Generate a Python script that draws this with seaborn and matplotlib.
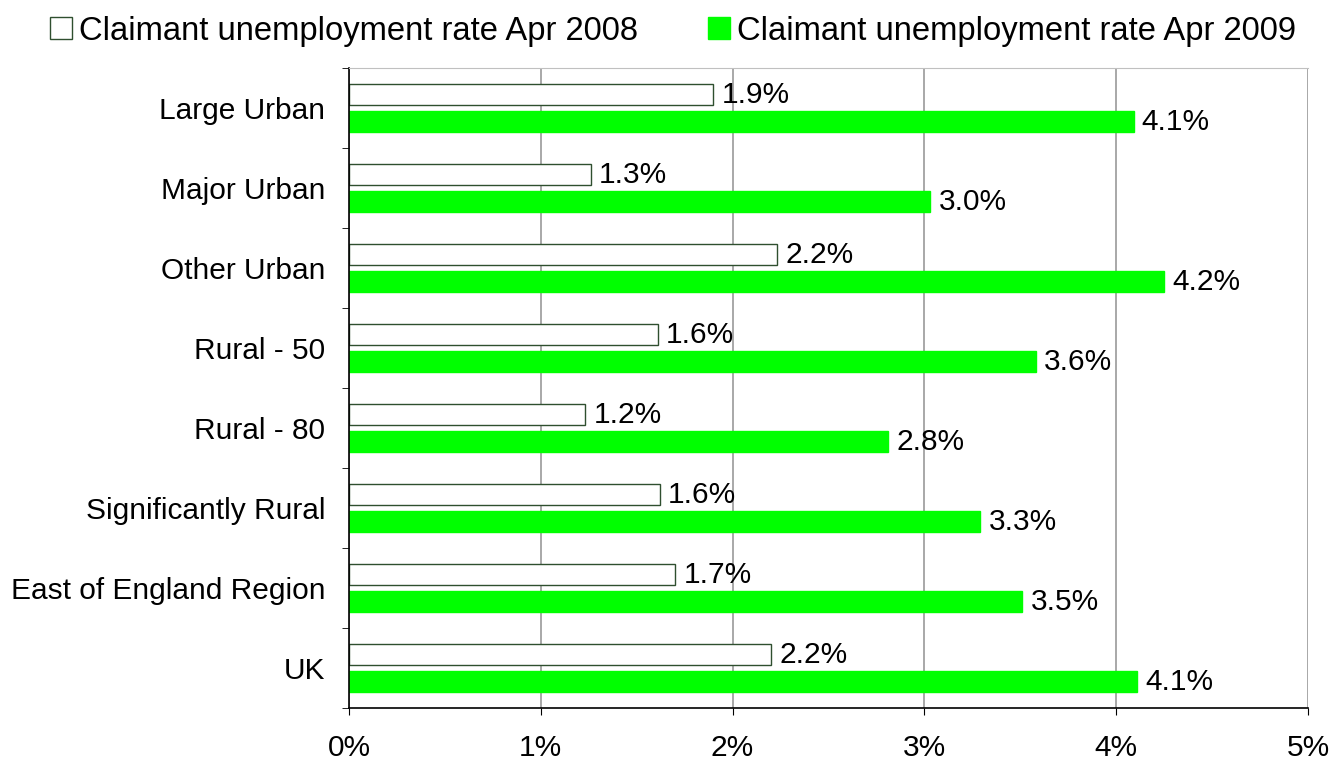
import pandas as pd
import numpy as np
import matplotlib
matplotlib.use("Agg")
import matplotlib.pyplot as plt
import seaborn as sns
from matplotlib.patches import Patch
from matplotlib.ticker import FuncFormatter

# Data
areas = ['Large Urban', 'Major Urban', 'Other Urban', 'Rural - 50', 'Rural - 80',
         'Significantly Rural', 'East of England Region', 'UK']
rate_2008 = [1.90, 1.26, 2.23, 1.61, 1.23, 1.62, 1.70, 2.20]
rate_2009 = [4.09, 3.03, 4.25, 3.58, 2.81, 3.29, 3.51, 4.11]
series_names = ['Claimant unemployment rate Apr 2008', 'Claimant unemployment rate Apr 2009']

df = pd.DataFrame({'Area': areas * 2,
                   'Rate': rate_2008 + rate_2009,
                   'Series': [series_names[0]] * len(areas) + [series_names[1]] * len(areas)})

sns.set_style("white")
plt.rcParams['font.family'] = ['Liberation Sans', 'DejaVu Sans']
plt.rcParams['text.color'] = 'black'
plt.rcParams['xtick.color'] = 'black'
plt.rcParams['ytick.color'] = 'black'

fig, ax = plt.subplots(figsize=(13.3, 7.61), dpi=100)
fig.subplots_adjust(left=0.2624, right=0.9835, top=0.9106, bottom=0.0696)

sns.barplot(data=df, y='Area', x='Rate', hue='Series', orient='h', saturation=1,
            palette=['white', '#00ff00'], width=0.675, gap=0.22, ax=ax, legend=False)

edge = '#2f4f2f'
for bar_container, ec in zip(ax.containers, [edge, '#00ff00']):
    for p in bar_container:
        p.set_edgecolor(ec)
        p.set_linewidth(1.0)
    ax.bar_label(bar_container, fmt='%.1f%%', padding=6, fontsize=21.5, color='black')

ax.set_xlim(0, 5)
ax.set_ylim(len(areas) - 0.5, -0.5)
ax.set_xticks(range(6))
ax.xaxis.set_major_formatter(FuncFormatter(lambda v, _: f'{v:.0f}%'))
ax.set_xlabel('')
ax.set_ylabel('')

ax.grid(axis='x', color='#999999', linewidth=1.2)
ax.set_axisbelow(True)

ax.set_yticks(np.arange(len(areas)))
ax.set_yticks(np.arange(len(areas) + 1) - 0.5, minor=True)
ax.tick_params(axis='y', which='major', length=0, pad=17, labelsize=21.5)
ax.tick_params(axis='y', which='minor', length=5, direction='out', color='black', left=True)
ax.tick_params(axis='x', length=5, direction='out', color='black', bottom=True, pad=14, labelsize=21.5)

for s in ['left', 'bottom']:
    ax.spines[s].set_color('black')
    ax.spines[s].set_linewidth(1.2)
ax.spines['top'].set_color('#c0c0c0')
ax.spines['right'].set_visible(False)

handles = [Patch(facecolor='white', edgecolor=edge, label=series_names[0]),
           Patch(facecolor='#00ff00', edgecolor='#00ff00', label=series_names[1])]
fig.legend(handles=handles, loc='upper center', bbox_to_anchor=(0.506, 1.018), ncol=2,
           frameon=False, fontsize=23.6, handlelength=0.65, handleheight=0.65,
           handletextpad=0.22, columnspacing=2.15)

fig.savefig('out.png', dpi=100)
